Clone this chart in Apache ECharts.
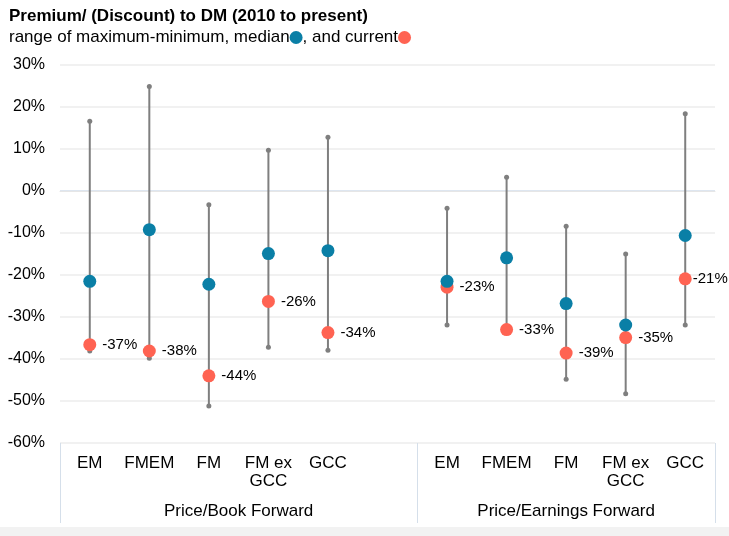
<!DOCTYPE html>
<html>
<head>
<meta charset="utf-8">
<script src="https://cdn.jsdelivr.net/npm/echarts@6/dist/echarts.min.js"></script>
<style>
  html, body { margin: 0; padding: 0; background: #f2f2f2; }
  #chart { width: 729px; height: 527px; background: #fff; }
</style>
</head>
<body>
<div id="chart"></div>
<script>
// categories (empty slot separates the two groups)
const categories = ['EM', 'FMEM', 'FM', 'FM ex\nGCC', 'GCC', '', 'EM', 'FMEM', 'FM', 'FM ex\nGCC', 'GCC'];
const groupNames = ['Price/Book Forward', 'Price/Earnings Forward'];
const groupSizes = [6, 5];

// premium / discount to DM, %
const maxValues = [16.6, 24.9, -3.3, 9.7, 12.8, null, -4.1, 3.3, -8.4, -15.0, 18.4];
const minValues = [-38.1, -39.8, -51.2, -37.2, -37.9, null, -31.9, -33.2, -44.8, -48.3, -31.9];
const medianValues = [-21.5, -9.2, -22.2, -14.9, -14.2, null, -21.5, -15.9, -26.8, -31.9, -10.6];
const currentValues = [-36.6, -38.1, -44.0, -26.3, -33.7, null, -22.9, -33.0, -38.6, -34.9, -20.9];

const yTicks = [-60, -50, -40, -30, -20, -10, 0, 10, 20, 30];

const FONT = 'Liberation Sans, Arial, sans-serif';
const TEAL = '#0a7fa6';
const CORAL = '#ff6352';
const GREY = '#7f7f7f';

// group boundaries and centres on a 0..N value scale
const bounds = [0];
groupSizes.forEach(s => bounds.push(bounds[bounds.length - 1] + s));
const centres = groupSizes.map((s, i) => bounds[i] + s / 2);

const rangeData = categories.map((c, i) => [i, minValues[i], maxValues[i]]).filter(d => d[1] != null);

const currentData = currentValues.map((v, i) => {
  if (v == null) return null;
  const item = { value: [i, v] };
  if (i === categories.length - 1) item.label = { distance: 1 };
  return item;
}).filter(Boolean);

const medianData = medianValues.map((v, i) => (v == null ? null : [i, v])).filter(Boolean);

const chart = echarts.init(document.getElementById('chart'));

chart.setOption({
  animation: false,
  textStyle: { fontFamily: FONT },
  title: {
    left: 4,
    top: 3,
    text: 'Premium/ (Discount) to DM (2010 to present)',
    textStyle: { fontFamily: FONT, fontSize: 17, fontWeight: 'bold', color: '#000' },
    subtext: 'range of maximum-minimum, median{b|}, and current{r|}',
    itemGap: 4,
    subtextStyle: {
      fontFamily: FONT, fontSize: 17, color: '#000',
      rich: {
        b: { width: 13, height: 13, borderRadius: 7, backgroundColor: TEAL },
        r: { width: 13, height: 13, borderRadius: 7, backgroundColor: CORAL }
      }
    }
  },
  grid: { left: 60, right: 14, top: 65, bottom: 84 },
  xAxis: [
    {
      type: 'category',
      data: categories,
      axisLine: { show: true, lineStyle: { color: '#e6e6e6', width: 1 } },
      axisTick: { show: false },
      axisLabel: { color: '#000', fontSize: 17, fontFamily: FONT, margin: 11, lineHeight: 18, interval: 0 }
    },
    {
      type: 'value',
      position: 'bottom',
      min: 0,
      max: categories.length,
      splitLine: { show: false },
      axisLine: { show: false },
      axisTick: {
        show: true, customValues: bounds, length: 80, inside: false,
        lineStyle: { color: '#d5dfea', width: 1 }
      },
      axisLabel: {
        customValues: centres,
        margin: 60,
        color: '#000', fontSize: 17, fontFamily: FONT,
        formatter: v => groupNames[centres.indexOf(v)] || ''
      }
    }
  ],
  yAxis: {
    type: 'value',
    min: -60,
    max: 30,
    interval: 10,
    axisLine: { show: false },
    axisTick: { show: false },
    axisLabel: { color: '#000', fontSize: 16, fontFamily: FONT, margin: 15, formatter: '{value}%' },
    splitLine: {
      lineStyle: {
        width: 1.5,
        color: yTicks.map(t => (t === 0 ? '#d3deeb' : '#ececec'))
      }
    }
  },
  series: [
    {
      type: 'custom',
      xAxisIndex: 0,
      data: rangeData,
      renderItem: (params, api) => {
        const lo = api.coord([api.value(0), api.value(1)]);
        const hi = api.coord([api.value(0), api.value(2)]);
        return {
          type: 'group',
          children: [
            { type: 'line', shape: { x1: lo[0], y1: lo[1], x2: hi[0], y2: hi[1] }, style: { stroke: GREY, lineWidth: 2 } },
            { type: 'circle', shape: { cx: lo[0], cy: lo[1], r: 2.5 }, style: { fill: GREY } },
            { type: 'circle', shape: { cx: hi[0], cy: hi[1], r: 2.5 }, style: { fill: GREY } }
          ]
        };
      },
      z: 1
    },
    {
      type: 'scatter',
      name: 'current',
      xAxisIndex: 0,
      data: currentData,
      symbolSize: 13,
      itemStyle: { color: CORAL, opacity: 1 },
      label: {
        show: true,
        position: 'right',
        distance: 6,
        color: '#000',
        fontSize: 15,
        fontFamily: FONT,
        formatter: p => Math.round(p.value[1]) + '%'
      },
      z: 2
    },
    {
      type: 'scatter',
      name: 'median',
      xAxisIndex: 0,
      data: medianData,
      symbolSize: 13,
      itemStyle: { color: TEAL, opacity: 1 },
      z: 3
    }
  ]
});
</script>
</body>
</html>
